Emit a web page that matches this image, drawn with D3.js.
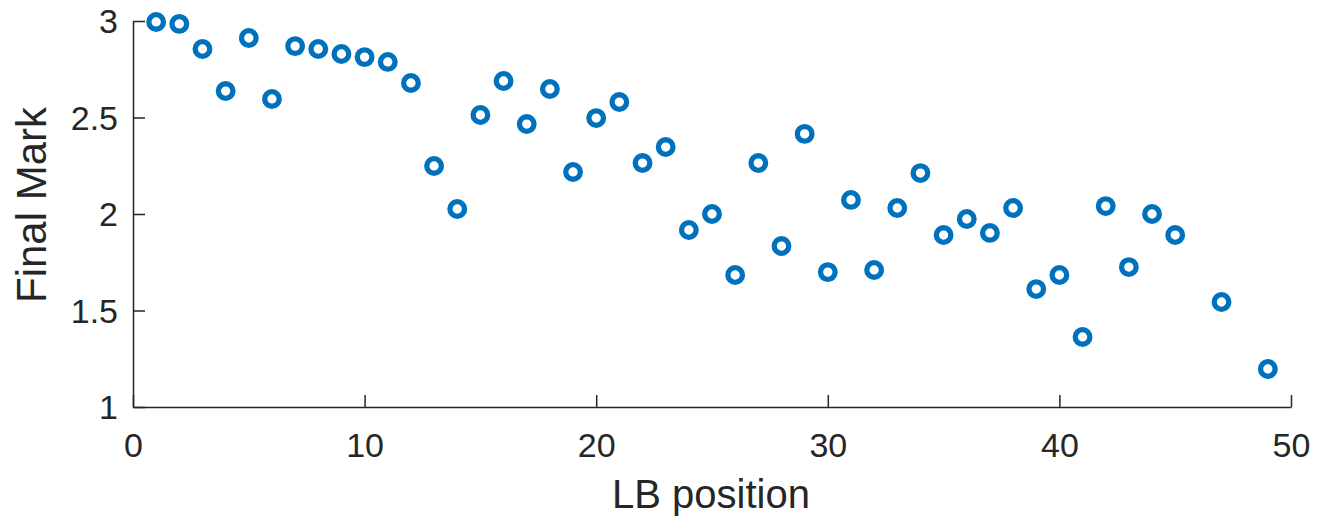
<!DOCTYPE html>
<html>
<head>
<meta charset="utf-8">
<script src="https://cdn.jsdelivr.net/npm/d3@7"></script>
<style>
  body { margin: 0; background: #fff; }
  text { font-family: "Liberation Sans", Arial, Helvetica, sans-serif; fill: #262626; }
</style>
</head>
<body>
<svg id="chart" width="1317" height="518"></svg>
<script>
// LB position vs final mark (positions 46 and 48 have no value)
var positions = [1,2,3,4,5,6,7,8,9,10,11,12,13,14,15,16,17,18,19,20,21,22,23,24,25,
                 26,27,28,29,30,31,32,33,34,35,36,37,38,39,40,41,42,43,44,45,47,49];
var marks = [2.995,2.985,2.855,2.637,2.912,2.596,2.870,2.855,2.829,2.813,2.788,2.679,2.249,2.026,2.513,
             2.689,2.466,2.648,2.218,2.497,2.580,2.264,2.347,1.917,2.000,
             1.684,2.264,1.834,2.415,1.699,2.073,1.710,2.031,2.212,1.891,1.974,1.902,2.031,1.611,1.684,
             1.363,2.041,1.725,2.000,1.891,1.544,1.197];
var xTicks = [0,10,20,30,40,50];
var yTicks = [1,1.5,2,2.5,3];

var svg = d3.select('#chart');
var mLeft = 133, mRight = 1291, mTop = 21, mBottom = 407;
var tickLen = 12;
var axisColor = '#262626';

var x = d3.scaleLinear().domain([0,50]).range([mLeft,mRight]);
var y = d3.scaleLinear().domain([1,3]).range([mBottom,mTop]);

// axes (MATLAB style, box off, ticks pointing inward)
var xAxis = svg.append('g').attr('transform','translate(0,'+mBottom+')')
  .call(d3.axisBottom(x).tickValues(xTicks).tickFormat(d3.format('d')).tickSizeInner(-tickLen).tickSizeOuter(0).tickPadding(26));
var yAxis = svg.append('g').attr('transform','translate('+mLeft+',0)')
  .call(d3.axisLeft(y).tickValues(yTicks).tickFormat(function(d){ return String(d); }).tickSizeInner(-tickLen).tickSizeOuter(0).tickPadding(15));

[xAxis,yAxis].forEach(function(a){
  a.select('.domain').attr('stroke',axisColor).attr('stroke-width',1.5);
  a.selectAll('.tick line').attr('stroke',axisColor).attr('stroke-width',1.5);
  a.selectAll('.tick text').attr('fill',axisColor).style('font-size','34px')
    .style('font-family','"Liberation Sans", Arial, sans-serif');
});
xAxis.selectAll('.tick text').attr('dy','0.71em');
yAxis.selectAll('.tick text').attr('dy','0.35em');

// labels
svg.append('text')
  .attr('x',711).attr('y',508)
  .attr('text-anchor','middle').style('font-size','40px')
  .text('LB position');

svg.append('text')
  .attr('transform','translate(46,205) rotate(-90)')
  .attr('text-anchor','middle').style('font-size','42px')
  .text('Final Mark');

// markers
svg.append('g').selectAll('circle')
  .data(positions.map(function(p,i){ return {p:p, m:marks[i]}; }))
  .join('circle')
  .attr('cx',function(d){ return x(d.p); })
  .attr('cy',function(d){ return y(d.m); })
  .attr('r',7.3)
  .attr('fill','none')
  .attr('stroke','#0072BD')
  .attr('stroke-width',5.3);
</script>
</body>
</html>
